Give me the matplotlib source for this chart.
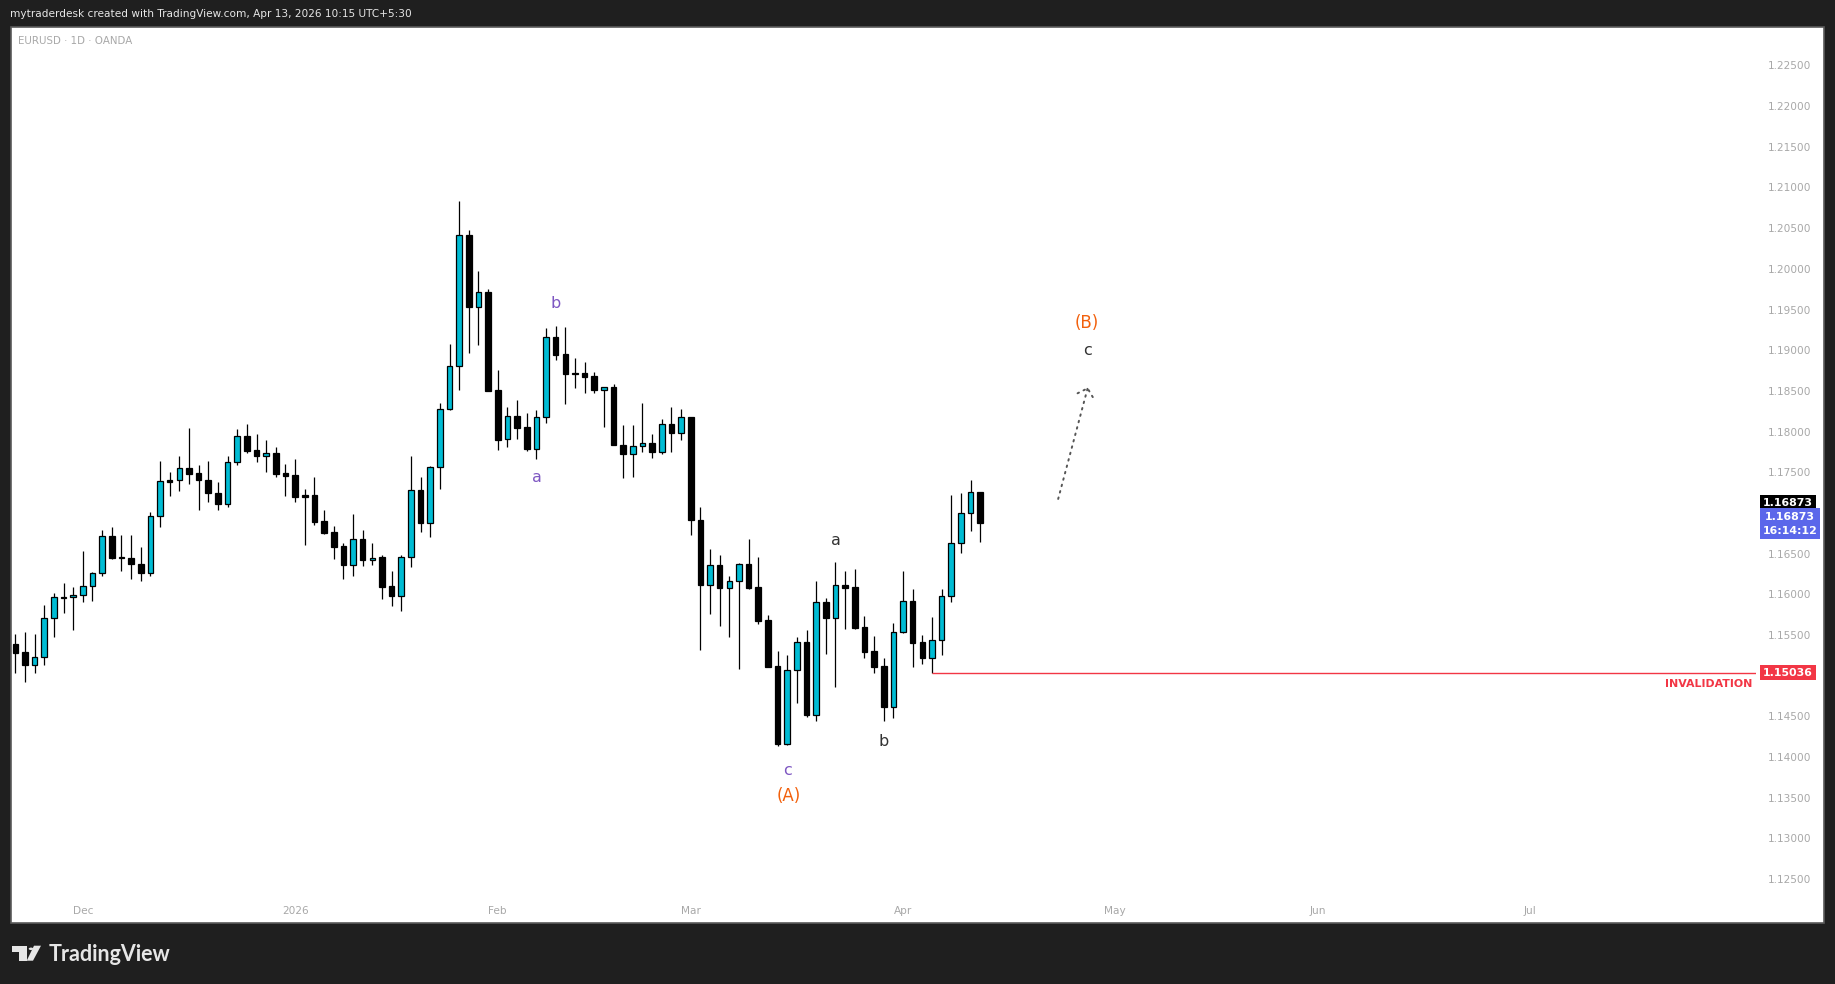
import numpy as np
import pandas as pd
import matplotlib
matplotlib.use("Agg")
import matplotlib.pyplot as plt
import matplotlib.transforms as mtransforms
from matplotlib.patches import Rectangle, Polygon, Circle

# ---------------- data ----------------
opens = [1.15388, 1.15290, 1.15134, 1.15224, 1.15703, 1.15962, 1.15962, 1.15986, 1.16097, 1.16257,
         1.16712, 1.16453, 1.16441, 1.16367, 1.16265, 1.16957, 1.17400, 1.17400, 1.17548, 1.17486,
         1.17400, 1.17240, 1.17105, 1.17621, 1.17941, 1.17769, 1.17703, 1.17732, 1.17486, 1.17462,
         1.17220, 1.17216, 1.16896, 1.16761, 1.16589, 1.16363, 1.16675, 1.16425, 1.16453, 1.16097,
         1.15982, 1.16462, 1.17277, 1.16880, 1.17560, 1.18281, 1.18802, 1.20412, 1.19535, 1.19711,
         1.18506, 1.17904, 1.18187, 1.18052, 1.17789, 1.18175, 1.19158, 1.18949, 1.18716, 1.18716,
         1.18679, 1.18515, 1.18543, 1.17840, 1.17719, 1.17816, 1.17855, 1.17743, 1.18098, 1.17976,
         1.18176, 1.16907, 1.16119, 1.16353, 1.16080, 1.16168, 1.16377, 1.16085, 1.15677, 1.15113,
         1.14160, 1.15064, 1.15410, 1.14515, 1.15900, 1.15711, 1.16119, 1.16085, 1.15594, 1.15298,
         1.15113, 1.14617, 1.15531, 1.15911, 1.15408, 1.15220, 1.15433, 1.15974, 1.16626, 1.16994,
         1.17253]
highs = [1.15511, 1.15535, 1.15511, 1.15867, 1.16011, 1.16134, 1.16085, 1.16531, 1.16273, 1.16789,
         1.16822, 1.16728, 1.16728, 1.16580, 1.17007, 1.17638, 1.17498, 1.17695, 1.18039, 1.17584,
         1.17638, 1.17380, 1.17695, 1.18027, 1.18089, 1.17966, 1.17892, 1.17806, 1.17597, 1.17658,
         1.17289, 1.17437, 1.17031, 1.16835, 1.16626, 1.16982, 1.16785, 1.16626, 1.16478, 1.16281,
         1.16486, 1.17695, 1.17437, 1.17572, 1.18347, 1.19072, 1.20834, 1.20474, 1.19969, 1.19748,
         1.18752, 1.18298, 1.18384, 1.18224, 1.18261, 1.19269, 1.19293, 1.19281, 1.18900, 1.18851,
         1.18728, 1.18552, 1.18580, 1.18074, 1.18074, 1.18346, 1.17967, 1.18156, 1.18297, 1.18273,
         1.18180, 1.17067, 1.16552, 1.16479, 1.16221, 1.16380, 1.16674, 1.16455, 1.15750, 1.15298,
         1.15249, 1.15468, 1.15555, 1.16168, 1.15949, 1.16401, 1.16280, 1.16304, 1.15726, 1.15483,
         1.15210, 1.15643, 1.16283, 1.16060, 1.15494, 1.15716, 1.16060, 1.17216, 1.17240, 1.17400,
         1.17258]
lows = [1.15036, 1.14925, 1.15036, 1.15134, 1.15478, 1.15773, 1.15560, 1.15908, 1.15921, 1.16228,
        1.16429, 1.16289, 1.16183, 1.16167, 1.16228, 1.16830, 1.17212, 1.17273, 1.17359, 1.17039,
        1.17138, 1.17039, 1.17076, 1.17584, 1.17740, 1.17630, 1.17507, 1.17445, 1.17212, 1.17138,
        1.16609, 1.16855, 1.16744, 1.16437, 1.16191, 1.16228, 1.16351, 1.16363, 1.15945, 1.15859,
        1.15798, 1.16339, 1.16769, 1.16707, 1.17298, 1.18270, 1.18511, 1.18970, 1.19068, 1.18495,
        1.17777, 1.17814, 1.17912, 1.17765, 1.17666, 1.18109, 1.18883, 1.18343, 1.18539, 1.18478,
        1.18478, 1.18060, 1.17835, 1.17432, 1.17446, 1.17748, 1.17680, 1.17719, 1.17748, 1.17899,
        1.16732, 1.15317, 1.15760, 1.15604, 1.15478, 1.15084, 1.16061, 1.15628, 1.15100, 1.14131,
        1.14141, 1.14666, 1.14496, 1.14447, 1.15259, 1.14865, 1.15570, 1.15570, 1.15210, 1.15035,
        1.14447, 1.14481, 1.15528, 1.15109, 1.15146, 1.15036, 1.15257, 1.15900, 1.16511, 1.16781,
        1.16646]
closes = [1.15281, 1.15134, 1.15224, 1.15703, 1.15962, 1.15958, 1.15986, 1.16097, 1.16257, 1.16712,
          1.16449, 1.16449, 1.16367, 1.16265, 1.16957, 1.17388, 1.17384, 1.17548, 1.17482, 1.17400,
          1.17240, 1.17105, 1.17621, 1.17941, 1.17765, 1.17703, 1.17732, 1.17482, 1.17457, 1.17199,
          1.17199, 1.16892, 1.16757, 1.16585, 1.16363, 1.16675, 1.16425, 1.16449, 1.16093, 1.15982,
          1.16462, 1.17277, 1.16880, 1.17560, 1.18281, 1.18802, 1.20412, 1.19535, 1.19711, 1.18502,
          1.17900, 1.18187, 1.18048, 1.17789, 1.18175, 1.19158, 1.18945, 1.18711, 1.18711, 1.18675,
          1.18515, 1.18543, 1.17839, 1.17719, 1.17816, 1.17855, 1.17743, 1.18098, 1.17976, 1.18176,
          1.16907, 1.16119, 1.16353, 1.16080, 1.16168, 1.16377, 1.16076, 1.15672, 1.15108, 1.14160,
          1.15064, 1.15410, 1.14515, 1.15900, 1.15711, 1.16119, 1.16080, 1.15585, 1.15293, 1.15108,
          1.14617, 1.15531, 1.15911, 1.15404, 1.15220, 1.15433, 1.15974, 1.16626, 1.16994, 1.17253,
          1.16873]

first_date = "2025-11-20"
holidays = ["2025-12-25", "2026-01-01"]
month_names = ["Dec", "2026", "Feb", "Mar", "Apr", "May", "Jun", "Jul"]
month_starts = ["2025-12", "2026-01", "2026-02", "2026-03", "2026-04", "2026-05", "2026-06", "2026-07"]
price_ticks = [1.125 + 0.005 * k for k in range(21)]

last_price = 1.16873
invalidation = 1.15036
countdown = "16:14:12"

# wave labels: (bar index, price, text, kind)
wave_labels = [
    (54.06, 1.17435, "a", "minor"),
    (56.03, 1.19568, "b", "minor"),
    (80.03, 1.13827, "c", "minor"),
    (80.15, 1.13519, "(A)", "major"),
    (85.0, 1.16658, "a", "minorc"),
    (89.98, 1.14183, "b", "minorc"),
    (111.09, 1.19002, "c", "minorc"),
    (111.09, 1.19338, "(B)", "major"),
]
arrow_start = (108.08, 1.17171)
arrow_tip = (111.13, 1.18531)
arrow_wing1 = (110.09, 1.18470)
arrow_wing2 = (111.78, 1.18400)
invalid_start = 95

# ---------------- figure ----------------
W, H = 1835, 984
BG = "#1f1f1f"
UP = "#00BCD4"
fig = plt.figure(figsize=(W / 100, H / 100), dpi=100, facecolor=BG)

def fx(px):
    return px / W

def fy(py):
    return 1 - py / H

# white chart area with thin grey border
fig.add_artist(Rectangle((fx(10.5), fy(922.5)), fx(1823.5) - fx(10.5), fy(27) - fy(922.5),
                         transform=fig.transFigure, facecolor="white", edgecolor="#5a5a5a",
                         linewidth=1.2, zorder=-10))

ax = fig.add_axes([fx(11), fy(895), fx(1756) - fx(11), fy(27) - fy(895)])
ax.set_facecolor("white")
ax.patch.set_alpha(0)
for s in ax.spines.values():
    s.set_visible(False)

# bar dates
dates = pd.bdate_range(first_date, "2026-08-31")
dates = dates[~dates.isin(pd.to_datetime(holidays))]
n = len(opens)
x = np.arange(n)

o = np.array(opens); h = np.array(highs); l = np.array(lows); c = np.array(closes)
up = c >= o
colors = [UP if u else "black" for u in up]
bottoms = np.minimum(o, c)
heights = np.maximum(np.abs(c - o), 0.00007)

ax.vlines(x, l, h, color="black", linewidth=0.9, zorder=2)
ax.bar(x, heights, bottom=bottoms, width=0.58, color=colors, edgecolor="black",
       linewidth=0.9, zorder=3)

ax.set_xlim(-0.446, 180.4)
ax.set_ylim(1.12302, 1.22973)

# y axis on right (labels hidden where the scale boxes sit, as TradingView does)
shown_ticks = [v for v in price_ticks
               if abs(v - last_price) > 0.002 and abs(v - invalidation) > 0.0015]
ax.yaxis.tick_right()
ax.set_yticks(shown_ticks)
ax.set_yticklabels([f"{v:.5f}" for v in shown_ticks])
ax.tick_params(axis="y", length=0, pad=8.6, labelsize=7.6, labelcolor="#a8a8a8")

# x axis month labels
tick_pos = []
for ms in month_starts:
    idx = np.where(dates.strftime("%Y-%m") == ms)[0][0]
    tick_pos.append(idx)
ax.set_xticks(tick_pos)
ax.set_xticklabels(month_names)
ax.tick_params(axis="x", length=0, pad=8.0, labelsize=7.6, labelcolor="#a8a8a8")

# wave labels
for xi, yi, txt, kind in wave_labels:
    if kind == "major":
        col, fs = "#F2600C", 12
    elif kind == "minor":
        col, fs = "#7E57C2", 11.5
    else:
        col, fs = "#333333", 11.5
    ax.text(xi, yi, txt, ha="center", va="center", color=col, fontsize=fs, zorder=5)

# dotted projection arrow
dot_style = dict(color="#555555", linewidth=1.4, linestyle=(0, (0.8, 2.6)), zorder=4,
                 solid_capstyle="round", dash_capstyle="round")
ax.plot([arrow_start[0], arrow_tip[0]], [arrow_start[1], arrow_tip[1]], **dot_style)
ax.plot([arrow_wing1[0], arrow_tip[0], arrow_wing2[0]],
        [arrow_wing1[1], arrow_tip[1], arrow_wing2[1]], **dot_style)

# invalidation line
ax.hlines(invalidation, invalid_start, 180.4, color="#F23645", linewidth=1.0, zorder=4)
ax.text(1.0 - fx(4) / (fx(1756) - fx(11)), invalidation - 0.00142, "INVALIDATION",
        transform=mtransforms.blended_transform_factory(ax.transAxes, ax.transData),
        ha="right", va="center", color="#F23645", fontsize=7.9, fontweight="bold")

# price labels on the scale
bt = mtransforms.blended_transform_factory(fig.transFigure, ax.transData)
ppx = 1.0 / 8134.0  # price per pixel

def price_box(yc, hpx, x0, x1, color):
    ax.add_artist(Rectangle((fx(x0), yc - hpx / 2 * ppx), fx(x1) - fx(x0), hpx * ppx,
                            transform=bt, facecolor=color, edgecolor="none",
                            clip_on=False, zorder=6))

y_black = last_price + 20.5 * ppx
price_box(y_black, 15.5, 1760, 1816, "black")
ax.text(fx(1788), y_black, f"{last_price:.5f}", transform=bt, ha="center", va="center",
        color="white", fontsize=7.9, fontweight="bold", clip_on=False, zorder=7)

y_blue = last_price - 0.5 * ppx
price_box(y_blue, 30.5, 1760, 1820, "#5B67EA")
ax.text(fx(1790), y_blue + 7 * ppx, f"{last_price:.5f}", transform=bt, ha="center",
        va="center", color="white", fontsize=7.9, fontweight="bold", clip_on=False, zorder=7)
ax.text(fx(1790), y_blue - 7.5 * ppx, countdown, transform=bt, ha="center",
        va="center", color="white", fontsize=7.9, fontweight="bold", clip_on=False, zorder=7)

price_box(invalidation, 15.5, 1760, 1816, "#F23645")
ax.text(fx(1788), invalidation, f"{invalidation:.5f}", transform=bt, ha="center",
        va="center", color="white", fontsize=7.9, fontweight="bold", clip_on=False, zorder=7)

# header texts
fig.text(fx(10), fy(14), "mytraderdesk created with TradingView.com, Apr 13, 2026 10:15 UTC+5:30",
         color="#e6e6e6", fontsize=7.6, ha="left", va="center")
fig.text(fx(18), fy(41.5), "EURUSD · 1D · OANDA", color="#a8a8a8", fontsize=7.4,
         ha="left", va="center")

# TradingView footer logo
fig.add_artist(Polygon([(fx(12.3), fy(945.7)), (fx(26.7), fy(945.7)), (fx(26.7), fy(960.7)),
                        (fx(19), fy(960.7)), (fx(19), fy(951.5)), (fx(12.3), fy(951.5))],
                       closed=True, transform=fig.transFigure, facecolor="#e6e6e6",
                       edgecolor="none"))
fig.add_artist(Circle((fx(31), fy(948.8)), 2.3 / W, transform=fig.transFigure,
                      facecolor="#e6e6e6", edgecolor="none"))
fig.add_artist(Polygon([(fx(34), fy(945.7)), (fx(41), fy(945.7)), (fx(33), fy(960.7)),
                        (fx(26.7), fy(960.7))],
                       closed=True, transform=fig.transFigure, facecolor="#e6e6e6",
                       edgecolor="none"))
fig.text(fx(49), fy(954.5), "TradingView", color="#e6e6e6", fontsize=15.5,
         fontweight="bold", family=["Lato", "DejaVu Sans"], ha="left", va="center")

fig.savefig("out.png", dpi=100, facecolor=BG)
